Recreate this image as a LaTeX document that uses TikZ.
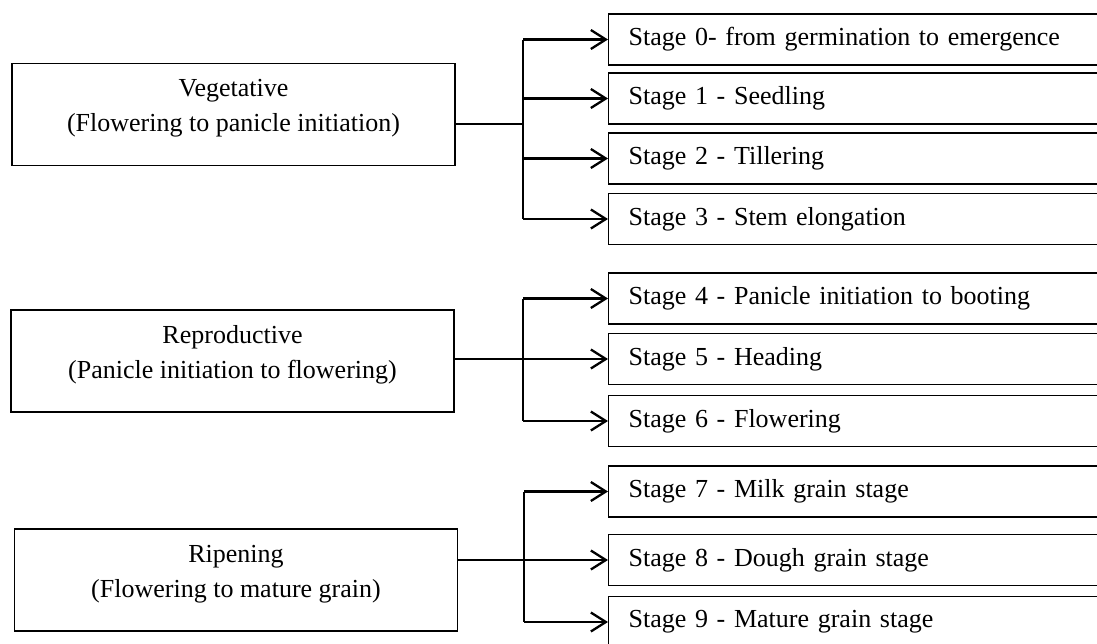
\documentclass[tikz,border=0pt]{standalone}
\usepackage{fontspec}
\setmainfont{Liberation Serif}
\usetikzlibrary{arrows.meta}

\tikzset{
  phase/.style={draw, line width=1.3pt, minimum width=443pt, minimum height=102pt, inner sep=0pt},
  stagebox/.style={draw, line width=1.3pt, minimum height=51pt, text width=480pt, inner xsep=20pt, inner ysep=0pt, align=left, anchor=west},
  feed/.style={line width=1.6pt},
  branch/.style={line width=2.3pt},
  tip/.style={-{Straight Barb[length=15pt,width=19pt,line width=2.3pt]}},
}

\begin{document}
\begin{tikzpicture}[x=1pt,y=-1pt,font=\fontsize{26}{35}\selectfont]
    \clip (0,0) rectangle (1097,643);
    % Growth Phases
    \node[phase] (veg) at (233.5,114.5) {};
    \node[align=center] (vegtxt) at ([yshift=6pt]veg.center) {Vegetative\\(Flowering to panicle initiation)};
    \node[phase] (rep) at (232.5,361) {};
    \node[align=center] (reptxt) at ([yshift=6pt]rep.center) {Reproductive\\(Panicle initiation to flowering)};
    \node[phase] (rip) at (236,580) {};
    \node[align=center] (riptxt) at ([yshift=6pt]rip.center) {Ripening\\(Flowering to mature grain)};
    % Stages
    \foreach \n/\y/\t in {0/39.5/{Stage 0- from germination to emergence},
                          1/98.5/{Stage 1 - Seedling},
                          2/158.5/{Stage 2 - Tillering},
                          3/219/{Stage 3 - Stem elongation},
                          4/298.5/{Stage 4 - Panicle initiation to booting},
                          5/359/{Stage 5 - Heading},
                          6/421/{Stage 6 - Flowering},
                          7/491.5/{Stage 7 - Milk grain stage},
                          8/560/{Stage 8 - Dough grain stage},
                          9/622/{Stage 9 - Mature grain stage}}
        \node[stagebox] (s\n) at (608,\y) {\t};
    % Junctions
    \coordinate (jv) at (523,124);
    \coordinate (jr) at (523,359);
    \coordinate (jp) at (524,560);
    %
    \draw[feed] (veg.east |- jv) -- (jv);
    \draw[feed] (rep.east |- jr) -- (jr);
    \draw[feed] (rip.east |- jp) -- (jp);
    % Branches to the stages
    \draw[branch] (jv |- s0.west) -- (jv |- s3.west);
    \draw[branch] (jr |- s4.west) -- (jr |- s6.west);
    \draw[branch] (jp |- s7.west) -- (jp |- s9.west);
    \foreach \n in {0,...,3} \draw[branch,tip] (jv |- s\n.west) -- (s\n.west);
    \foreach \n in {4,...,6} \draw[branch,tip] (jr |- s\n.west) -- (s\n.west);
    \foreach \n in {7,...,9} \draw[branch,tip] (jp |- s\n.west) -- (s\n.west);
\end{tikzpicture}
\end{document}
